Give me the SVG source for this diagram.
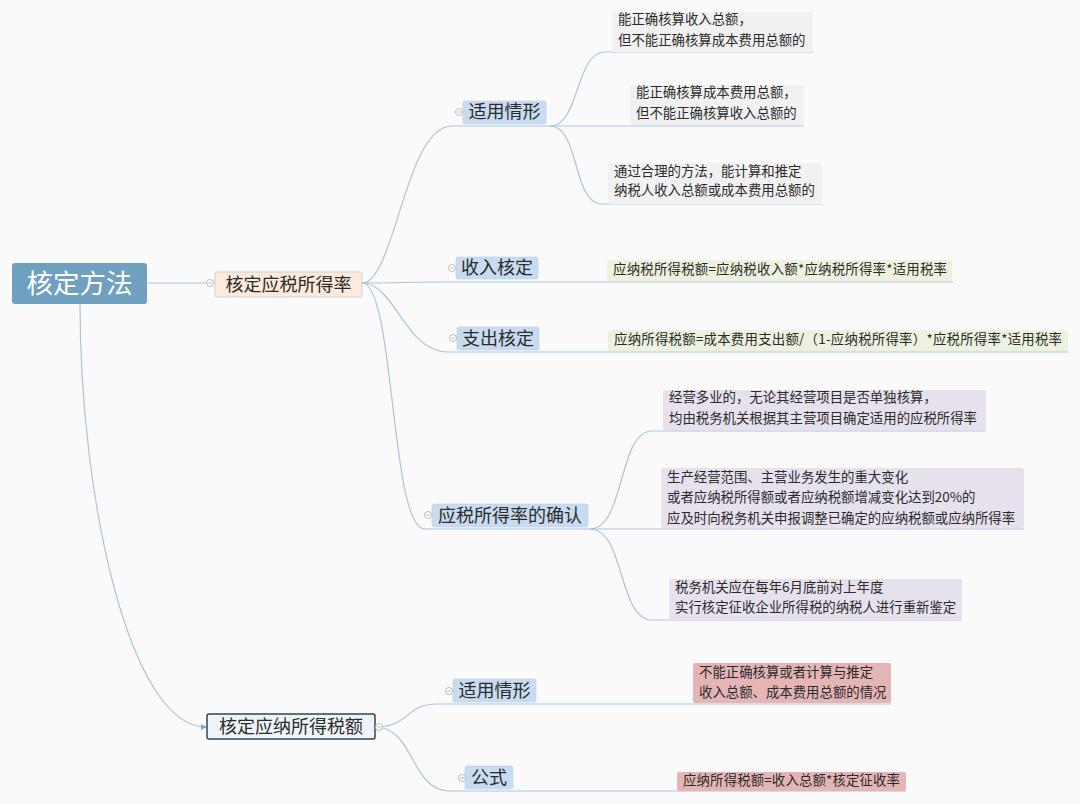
<svg xmlns="http://www.w3.org/2000/svg" width="1080" height="804" viewBox="0 0 1080 804">
<style>
text{font-family:"Noto Sans CJK SC","Liberation Sans",sans-serif;fill:#2b2b2b}
.conn path{fill:none;stroke:#a7c6dc;stroke-width:1.2}
.sub rect{fill:#c8dbf1;stroke:#bcd0e8;stroke-width:0.6}
.sub text{font-size:18px;text-anchor:middle}
.leaf text{font-size:13.4px}
.gray{fill:#f1f1f1}
.green{fill:#edf2de}
.lav{fill:#e6e1ec}
.pink{fill:#e5b5b5}
.tog circle{fill:#fff;stroke:#aaa;stroke-width:0.8}
.tog path{stroke:#aaa;stroke-width:0.8}
</style>
<defs>
<marker id="dot" viewBox="0 0 6 6" refX="5" refY="3" markerWidth="5" markerHeight="5" orient="auto"><path d="M0,0 L6,3 L0,6 z" fill="#7fa9c6"/></marker>
</defs>
<rect width="1080" height="804" fill="#fafafa"/>

<g id="connectors" class="conn">
<path d="M147,283 L211,283"/>
<path d="M80,304 C80,500 130,727 206,727" marker-end="url(#dot)"/>
<path d="M362,283 C395,283 405,126 452,126 L550,126"/>
<path d="M362,283 C400,283 410,282 445,282 L953,282"/>
<path d="M362,283 C395,283 405,352 448,352 L1068,352"/>
<path d="M362,283 C395,283 390,529 425,529 L590,529"/>
<path d="M550,126 C580,126 575,52 605,52 L813,52"/>
<path d="M550,126 L804,126"/>
<path d="M550,126 C580,126 572,204 602,204 L822,204"/>
<path d="M590,529 C625,529 618,431 652,431 L986,431"/>
<path d="M590,529 L1024,529"/>
<path d="M590,529 C625,529 618,620 652,620 L962,620"/>
<path d="M375,727 C410,727 405,704 437,704 L891,704"/>
<path d="M375,727 C415,727 410,791 450,791 L906,791"/>
</g>

<g id="root">
<rect x="12" y="263" width="135" height="41" rx="3" fill="#70a0c0"/>
<text x="79.5" y="292.5" text-anchor="middle" style="font-size:26.5px;fill:#fff">核定方法</text>
</g>

<g id="n1">
<rect x="215" y="272" width="147" height="25" rx="2" fill="#fdeadb" stroke="#c4d3e1" stroke-width="1"/>
<text x="288.5" y="290.5" text-anchor="middle" style="font-size:18px">核定应税所得率</text>
</g>

<g id="n2">
<rect x="207" y="714" width="168" height="25" rx="2" fill="#eef3f7" stroke="#2f4553" stroke-width="1.5"/>
<text x="291" y="733" text-anchor="middle" style="font-size:18px">核定应纳所得税额</text>
</g>

<g id="s1" class="sub"><rect x="463" y="101" width="83" height="23" rx="2"/><text x="504.5" y="118">适用情形</text></g>
<g id="s2" class="sub"><rect x="456" y="257" width="82" height="22" rx="2"/><text x="497" y="274">收入核定</text></g>
<g id="s3" class="sub"><rect x="457" y="327" width="82" height="23" rx="2"/><text x="498" y="345">支出核定</text></g>
<g id="s4" class="sub"><rect x="432" y="504" width="156" height="23" rx="2"/><text x="510" y="522">应税所得率的确认</text></g>
<g id="s5" class="sub"><rect x="453" y="679" width="83" height="23" rx="2"/><text x="494.5" y="697">适用情形</text></g>
<g id="s6" class="sub"><rect x="465" y="766" width="48" height="23" rx="2"/><text x="489" y="784">公式</text></g>

<g id="l1" class="leaf"><rect class="gray" x="612" y="12" width="201" height="40" rx="2"/><text x="618" y="24">能正确核算收入总额，</text><text x="618" y="45">但不能正确核算成本费用总额的</text></g>
<g id="l2" class="leaf"><rect class="gray" x="630" y="85" width="174" height="40" rx="2"/><text x="636" y="97">能正确核算成本费用总额，</text><text x="636" y="118">但不能正确核算收入总额的</text></g>
<g id="l3" class="leaf"><rect class="gray" x="608" y="163" width="214" height="41" rx="2"/><text x="614" y="176">通过合理的方法，能计算和推定</text><text x="614" y="195">纳税人收入总额或成本费用总额的</text></g>
<g id="f1" class="leaf"><rect class="green" x="607" y="260" width="345" height="21" rx="2"/><text x="613" y="274" textLength="334" lengthAdjust="spacing">应纳税所得税额=应纳税收入额*应纳税所得率*适用税率</text></g>
<g id="f2" class="leaf"><rect class="green" x="608" y="330" width="460" height="21" rx="2"/><text x="614" y="344" textLength="448" lengthAdjust="spacing">应纳所得税额=成本费用支出额/（1-应纳税所得率）*应税所得率*适用税率</text></g>
<g id="c1" class="leaf"><rect class="lav" x="663" y="390" width="323" height="40" rx="2"/><text x="669" y="402">经营多业的，无论其经营项目是否单独核算，</text><text x="669" y="423">均由税务机关根据其主营项目确定适用的应税所得率</text></g>
<g id="c2" class="leaf"><rect class="lav" x="661" y="468" width="363" height="60" rx="2"/><text x="667" y="482">生产经营范围、主营业务发生的重大变化</text><text x="667" y="502">或者应纳税所得额或者应纳税额增减变化达到20%的</text><text x="667" y="523">应及时向税务机关申报调整已确定的应纳税额或应纳所得率</text></g>
<g id="c3" class="leaf"><rect class="lav" x="669" y="579" width="293" height="41" rx="2"/><text x="675" y="592">税务机关应在每年6月底前对上年度</text><text x="675" y="612">实行核定征收企业所得税的纳税人进行重新鉴定</text></g>
<g id="p1" class="leaf"><rect class="pink" x="693" y="663" width="198" height="40" rx="2"/><text x="699" y="677">不能正确核算或者计算与推定</text><text x="699" y="697">收入总额、成本费用总额的情况</text></g>
<g id="p2" class="leaf"><rect class="pink" x="677" y="772" width="229" height="19" rx="2"/><text x="683" y="785" textLength="217" lengthAdjust="spacing">应纳所得税额=收入总额*核定征收率</text></g>

<g id="toggles" class="tog">
<circle cx="210" cy="283" r="3.5"/><path d="M208,283 h4"/>
<circle cx="459" cy="112" r="3.5"/><path d="M457,112 h4"/>
<circle cx="452" cy="268" r="3.5"/><path d="M450,268 h4"/>
<circle cx="453" cy="338" r="3.5"/><path d="M451,338 h4"/>
<circle cx="428" cy="515" r="3.5"/><path d="M426,515 h4"/>
<circle cx="379" cy="727" r="3.5"/><path d="M377,727 h4"/>
<circle cx="449" cy="691" r="3.5"/><path d="M447,691 h4"/>
<circle cx="462" cy="778" r="3.5"/><path d="M460,778 h4"/>
</g>
</svg>
